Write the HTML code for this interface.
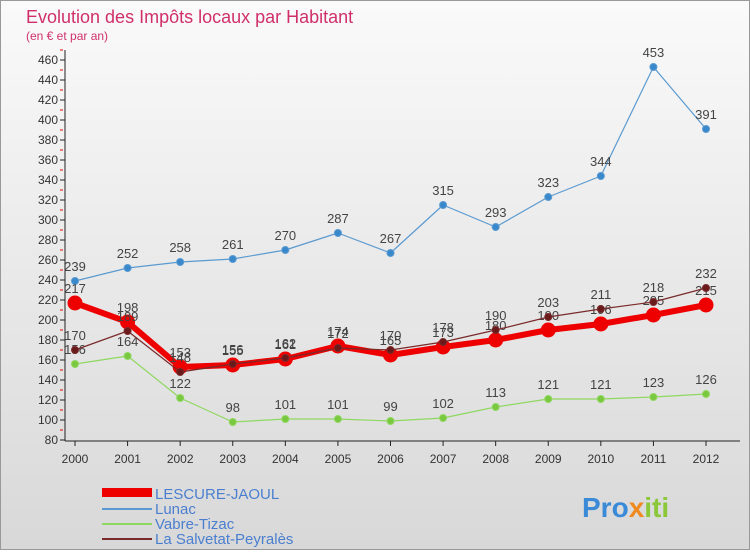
<!DOCTYPE html>
<html><head><meta charset="utf-8"><style>
body{margin:0;width:750px;height:550px;overflow:hidden;font-family:"Liberation Sans",sans-serif}
svg text{font-family:"Liberation Sans",sans-serif}
</style></head><body>
<svg id="c" width="750" height="550">
<defs><linearGradient id="bg" x1="0" y1="0" x2="0" y2="1"><stop offset="0" stop-color="#fafafa"/><stop offset="1" stop-color="#d8d8d8"/></linearGradient></defs>
<rect x="0" y="0" width="750" height="550" fill="url(#bg)"/>
<rect x="0.5" y="0.5" width="749" height="549" fill="none" stroke="#999"/>
<text x="26" y="23" font-size="18" fill="#d0306a">Evolution des Impôts locaux par Habitant</text>
<text x="26" y="40" font-size="12" fill="#d0306a">(en € et par an)</text>
<g id="axes"></g><g id="series"></g>
<g>
<rect x="102" y="488" width="50" height="9" fill="#ee0000"/>
<text x="155" y="499" font-size="15" fill="#4a7fd0">LESCURE-JAOUL</text>
<line x1="102" y1="509" x2="152" y2="509" stroke="#5a9ad0" stroke-width="2"/>
<text x="155" y="514" font-size="15" fill="#4a7fd0">Lunac</text>
<line x1="102" y1="524" x2="152" y2="524" stroke="#8fd860" stroke-width="2"/>
<text x="155" y="529" font-size="15" fill="#4a7fd0">Vabre-Tizac</text>
<line x1="102" y1="539" x2="152" y2="539" stroke="#7a2a2a" stroke-width="2"/>
<text x="155" y="544" font-size="15" fill="#4a7fd0">La Salvetat-Peyralès</text>
</g>
<text x="582" y="517" font-size="28" font-weight="bold" fill="#3a8ad8">Pro<tspan fill="#f08a20">x</tspan><tspan fill="#8ac83a">iti</tspan></text>
</svg>
<script>
const years=["2000","2001","2002","2003","2004","2005","2006","2007","2008","2009","2010","2011","2012"];
const lescure=[217,198,153,155,161,174,165,173,180,190,196,205,215];
const lunac=[239,252,258,261,270,287,267,315,293,323,344,453,391];
const vabre=[156,164,122,98,101,101,99,102,113,121,121,123,126];
const salvetat=[170,189,148,156,162,172,170,178,190,203,211,218,232];
const yTicks=[80,100,120,140,160,180,200,220,240,260,280,300,320,340,360,380,400,420,440,460];
const NS="http://www.w3.org/2000/svg";
const X=i=>75+i*(706-75)/(years.length-1);
const Y=v=>440-(v-80)*(380/380);
function mk(t,a,p){const e=document.createElementNS(NS,t);for(const k in a)e.setAttribute(k,a[k]);p.appendChild(e);return e;}
const ax=document.getElementById('axes'),sg=document.getElementById('series');
let e=mk('line',{x1:65,y1:50,x2:65,y2:441,stroke:'#222'},ax);


e=mk('line',{x1:65,y1:441,x2:740,y2:441,stroke:'#222'},ax);


yTicks.forEach(v=>{
 const l=mk('line',{x1:60,y1:Y(v),x2:65,y2:Y(v),stroke:'#222'},ax);
 
 
 const m=mk('line',{x1:60,y1:Y(v)-10,x2:63,y2:Y(v)-10,stroke:'#e00'},ax);
 
 
 const t=mk('text',{x:58,y:Y(v)+4,'font-size':12,'text-anchor':'end',fill:'#333'},ax);t.textContent=v;
 
 
});
years.forEach((y,i)=>{
 const l=mk('line',{x1:X(i),y1:441,x2:X(i),y2:446,stroke:'#222'},ax);
 
 
 const t=mk('text',{x:X(i),y:463,'font-size':12,'text-anchor':'middle',fill:'#333'},ax);t.textContent=y;
 
 
});
function series(d,name,col,w,r,fill){
 const g=mk('g',{},sg);
 
 
 const p=mk('polyline',{points:d.map((v,i)=>X(i)+','+Y(v)).join(' '),fill:'none',stroke:col,'stroke-width':w,'stroke-linejoin':'round'},g);
 
 
 d.forEach((v,i)=>{
  const c=mk('circle',{cx:X(i),cy:Y(v),r:r,fill:fill,stroke:col,'stroke-width':1},g);
  
  
  const t=mk('text',{x:X(i),y:Y(v)-10,'font-size':13,'text-anchor':'middle',fill:'#444'},g);t.textContent=v;
  
  
 });
}
series(lunac,'lunac','#5a9ad0',1.2,3.5,'#3a88cc');
series(vabre,'vabre','#8fd860',1.2,3.5,'#7ac840');
series(lescure,'lescure','#ee0000',6,7,'#ee0000');
series(salvetat,'salvetat','#7a2a2a',1.2,3.5,'#6a1a1a');
</script>
</body></html>
